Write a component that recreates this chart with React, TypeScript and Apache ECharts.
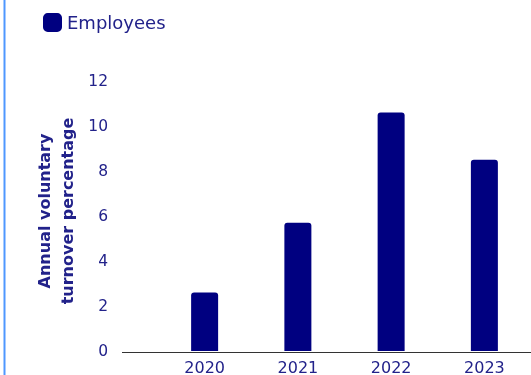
import React, { useEffect, useRef } from "react";
import * as echarts from "echarts";

const categories = ["2020", "2021", "2022", "2023"];
const employees = [2.6, 5.7, 10.6, 8.5];
const seriesName = "Employees";
const yAxisTitle = "Annual voluntary\nturnover percentage";

const NAVY = "#000080";
const TEXT = "#22228a";
const FONT = "DejaVu Sans";

export default function App() {
  const ref = useRef<HTMLDivElement>(null);
  useEffect(() => {
    if (!ref.current) return;
    const chart = echarts.init(ref.current, undefined, { renderer: "svg" });
    chart.setOption({
      animation: false,
      textStyle: { fontFamily: FONT },
      legend: {
        data: [seriesName],
        left: 38,
        top: 8,
        itemWidth: 19,
        itemHeight: 19,
        itemGap: 10,
        icon: "roundRect",
        textStyle: { color: TEXT, fontSize: 18, fontFamily: FONT },
      },
      grid: { left: 158, right: -4, top: 81, bottom: 22 },
      xAxis: {
        type: "category",
        data: categories,
        axisLine: { show: false },
        axisTick: { show: false },
        axisLabel: { color: TEXT, fontSize: 16, margin: 8, fontFamily: FONT },
      },
      yAxis: {
        type: "value",
        min: 0,
        max: 12,
        interval: 2,
        axisLine: { show: false },
        axisTick: { show: false },
        splitLine: { show: false },
        axisLabel: {
          color: TEXT,
          fontSize: 15.5,
          margin: 50,
          fontFamily: FONT,
          padding: [3, 0, 0, 0],
        },
      },
      graphic: [
        {
          type: "line",
          shape: { x1: 4.5, y1: 0, x2: 4.5, y2: 375 },
          style: { stroke: "#4f97ff", lineWidth: 2 },
        },
        {
          type: "line",
          z: 10,
          shape: { x1: 122, y1: 352.5, x2: 531, y2: 352.5 },
          style: { stroke: "#333", lineWidth: 1 },
        },
        {
          type: "text",
          x: 56,
          y: 211,
          rotation: Math.PI / 2,
          style: {
            text: yAxisTitle,
            fill: TEXT,
            font: `bold 16px "${FONT}"`,
            textAlign: "center",
            textVerticalAlign: "middle",
            lineHeight: 23,
          },
        },
      ],
      series: [
        {
          name: seriesName,
          type: "bar",
          data: employees,
          barWidth: 27,
          itemStyle: { color: NAVY, borderRadius: [3, 3, 0, 0] },
        },
      ],
    });
    return () => chart.dispose();
  }, []);
  return (
    <div
      ref={ref}
      style={{ position: "fixed", left: 0, top: 0, width: 531, height: 375 }}
    />
  );
}
